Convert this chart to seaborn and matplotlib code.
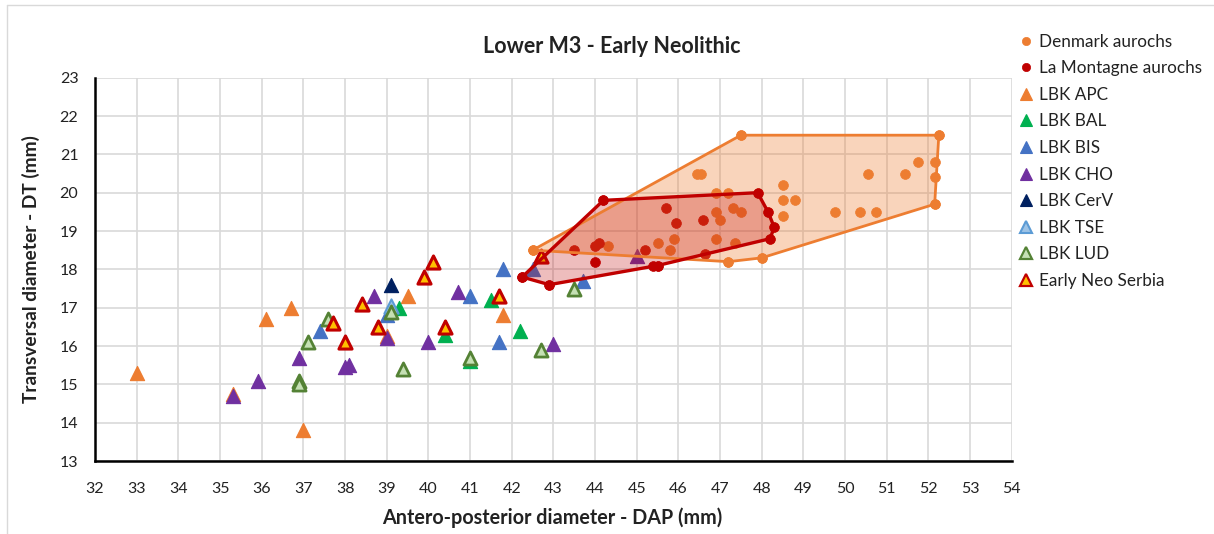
import numpy as np
import pandas as pd
import matplotlib
matplotlib.use("Agg")
import matplotlib.pyplot as plt
import seaborn as sns
from matplotlib.lines import Line2D

# ---------------- data ----------------
denmark_x = [42.5, 44.3, 45.5, 45.8, 45.9, 46.45, 46.55, 46.9, 47.2, 46.9, 47.0, 47.3, 47.5,
             46.9, 47.35, 47.2, 48.0, 47.5, 48.5, 48.5, 48.8, 48.5, 49.75, 50.35, 50.75,
             50.55, 51.45, 51.75, 52.15, 52.15, 52.15, 52.25]
denmark_y = [18.5, 18.6, 18.7, 18.5, 18.8, 20.5, 20.5, 20.0, 20.0, 19.5, 19.3, 19.6, 19.5,
             18.8, 18.7, 18.2, 18.3, 21.5, 20.2, 19.8, 19.8, 19.4, 19.5, 19.5, 19.5,
             20.5, 20.5, 20.8, 20.8, 20.4, 19.7, 21.5]

montagne_x = [42.25, 42.9, 43.5, 44.0, 44.1, 44.0, 44.2, 45.2, 45.4, 45.5, 45.7, 45.95,
              46.6, 46.65, 47.9, 48.15, 48.3, 48.2]
montagne_y = [17.8, 17.6, 18.5, 18.6, 18.7, 18.2, 19.8, 18.5, 18.1, 18.1, 19.6, 19.2,
              19.3, 18.4, 20.0, 19.5, 19.1, 18.8]

apc_x = [33.0, 35.3, 36.1, 36.7, 37.0, 39.0, 39.5, 41.8]
apc_y = [15.3, 14.75, 16.7, 17.0, 13.8, 16.25, 17.3, 16.8]

bal_x = [39.3, 40.4, 41.5, 42.2, 41.0]
bal_y = [17.0, 16.3, 17.2, 16.4, 15.6]

bis_x = [37.4, 39.0, 41.0, 41.8, 41.7, 43.7, 42.5]
bis_y = [16.4, 16.8, 17.3, 18.0, 16.1, 17.7, 18.0]

cho_x = [35.3, 35.9, 36.9, 38.0, 38.1, 38.7, 39.0, 40.0, 40.7, 43.0, 45.0]
cho_y = [14.7, 15.1, 15.7, 15.45, 15.5, 17.3, 16.2, 16.1, 17.4, 16.05, 18.35]

cerv_x = [39.1]
cerv_y = [17.6]

tse_x = [39.1]
tse_y = [17.05]

lud_x = [36.9, 36.9, 37.1, 37.6, 39.1, 39.4, 41.0, 42.7, 43.5]
lud_y = [15.1, 15.0, 16.1, 16.7, 16.9, 15.4, 15.7, 15.9, 17.5]

serbia_x = [40.1, 39.9, 38.4, 37.7, 38.8, 38.0, 40.4, 41.7, 42.7]
serbia_y = [18.2, 17.8, 17.1, 16.6, 16.5, 16.1, 16.5, 17.3, 18.35]

x_ticks = list(range(32, 55))
y_ticks = list(range(13, 24))

title = "Lower M3 - Early Neolithic"
x_label = "Antero-posterior diameter - DAP (mm)"
y_label = "Transversal diameter - DT (mm)"


def convex_hull(xs, ys):
    pts = sorted(set(zip(xs, ys)))

    def cross(o, a, b):
        return (a[0] - o[0]) * (b[1] - o[1]) - (a[1] - o[1]) * (b[0] - o[0])

    lower, upper = [], []
    for p in pts:
        while len(lower) >= 2 and cross(lower[-2], lower[-1], p) <= 0:
            lower.pop()
        lower.append(p)
    for p in reversed(pts):
        while len(upper) >= 2 and cross(upper[-2], upper[-1], p) <= 0:
            upper.pop()
        upper.append(p)
    hull = lower[:-1] + upper[:-1]
    hull.append(hull[0])
    return [p[0] for p in hull], [p[1] for p in hull]


# ---------------- style ----------------
sns.set_theme(style="white")
plt.rcParams["font.family"] = ["Lato", "DejaVu Sans"]

fig = plt.figure(figsize=(12.14, 5.34), dpi=100)
ax = fig.add_axes([0.0783, 0.1367, 0.7551, 0.7178])

C_ORANGE = "#ED7D31"
C_DRED = "#C00000"

tri_s = 105
circ_s = 50

series = [
    # label, x, y, marker, size, face, edge, lw
    ("Denmark aurochs", denmark_x, denmark_y, "o", circ_s, C_ORANGE, C_ORANGE, 0.5),
    ("La Montagne aurochs", montagne_x, montagne_y, "o", circ_s, C_DRED, C_DRED, 0.5),
    ("LBK APC", apc_x, apc_y, "^", tri_s, C_ORANGE, C_ORANGE, 0.8),
    ("LBK BAL", bal_x, bal_y, "^", tri_s, "#00B050", "#00B050", 0.8),
    ("LBK BIS", bis_x, bis_y, "^", tri_s, "#4472C4", "#4472C4", 0.8),
    ("LBK CHO", cho_x, cho_y, "^", tri_s, "#7030A0", "#7030A0", 0.8),
    ("LBK CerV", cerv_x, cerv_y, "^", tri_s, "#002060", "#002060", 0.8),
    ("LBK TSE", tse_x, tse_y, "^", tri_s, "#9DC3E6", "#5B9BD5", 1.5),
    ("LBK LUD", lud_x, lud_y, "^", tri_s * 0.85, "#C5E0B4", "#548235", 2.0),
    ("Early Neo Serbia", serbia_x, serbia_y, "^", tri_s * 0.85, "#FFC000", C_DRED, 2.2),
]

handles = []
for i, (lab, xs, ys, mk, s, fc, ec, lw) in enumerate(series):
    df = pd.DataFrame({"x": xs, "y": ys})
    sns.scatterplot(data=df, x="x", y="y", marker=mk, s=s, color=fc, edgecolor=ec,
                    linewidth=lw, ax=ax, zorder=3 + i * 0.01, legend=False)
    ms = 7 if mk == "o" else 10
    handles.append(Line2D([], [], ls="none", marker=mk, markersize=ms * 0.85,
                          markerfacecolor=fc, markeredgecolor=ec,
                          markeredgewidth=min(lw, 1.6), label=lab))

# hulls
for xs, ys, col, fa, lw in [(denmark_x, denmark_y, C_ORANGE, 0.33, 2.0),
                            (montagne_x, montagne_y, C_DRED, 0.26, 2.4)]:
    hx, hy = convex_hull(xs, ys)
    ax.fill(hx, hy, color=col, alpha=fa, lw=0, zorder=5)
    ax.plot(hx, hy, color=col, lw=lw, zorder=6, marker="o", markersize=7.2,
            markerfacecolor=col, markeredgewidth=0)

ax.set_xlim(32, 54)
ax.set_ylim(13, 23)
ax.set_xticks(x_ticks)
ax.set_yticks(y_ticks)
ax.grid(True, color="#D9D9D9", lw=1.2)
ax.set_axisbelow(True)
for sp in ["top", "right"]:
    ax.spines[sp].set_visible(False)
for sp in ["left", "bottom"]:
    ax.spines[sp].set_color("black")
    ax.spines[sp].set_linewidth(1.8)
    ax.spines[sp].set_zorder(10)
ax.tick_params(axis="x", length=0, pad=15, labelsize=11.5, colors="#222222")
ax.tick_params(axis="y", length=0, pad=12, labelsize=11.5, colors="#222222")
ax.set_xlabel("")
ax.set_ylabel("")

fig.text(0.504, 0.912, title, ha="center", va="center", fontsize=15.5, fontweight="bold",
         color="#222222")
fig.text(0.4547, 0.030, x_label, ha="center", va="center", fontsize=14.2, fontweight="bold",
         color="#222222")
fig.text(0.0255, 0.496, y_label, ha="center", va="center", rotation=90, fontsize=13.8,
         fontweight="bold", color="#222222")

fig.legend(handles=handles, loc="upper left", bbox_to_anchor=(0.8395, 0.937),
           frameon=False, fontsize=12.3, labelspacing=0.62, handlelength=0.8,
           handletextpad=0.35, borderpad=0, borderaxespad=0, labelcolor="#222222")

# chart-area border
fig.add_artist(Line2D([7 / 1214, 7 / 1214], [0, 1 - 5 / 534], transform=fig.transFigure,
                      color="#D9D9D9", lw=1))
fig.add_artist(Line2D([7 / 1214, 1], [1 - 5 / 534, 1 - 5 / 534], transform=fig.transFigure,
                      color="#D9D9D9", lw=1))

fig.savefig("out.png", dpi=100)
